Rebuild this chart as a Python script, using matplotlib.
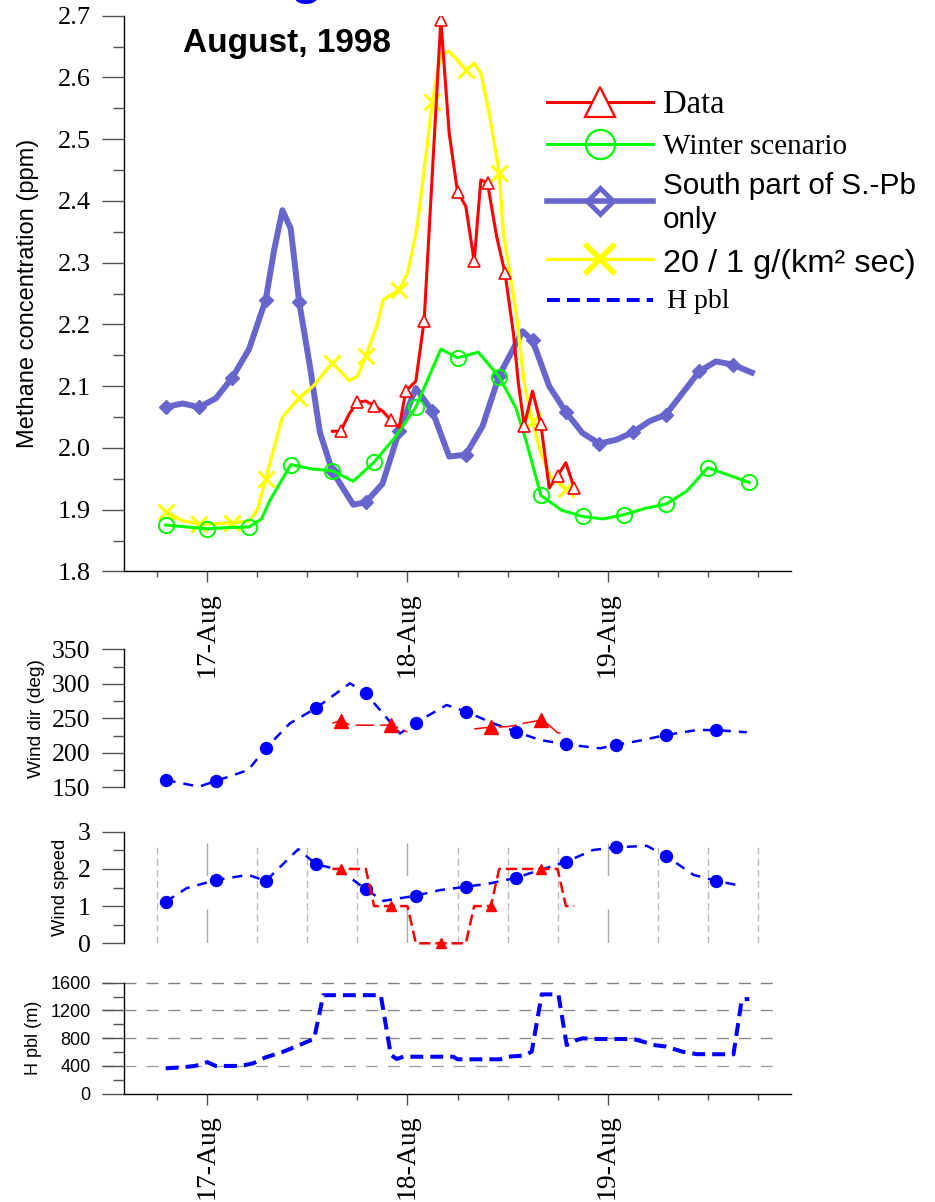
import matplotlib
matplotlib.use("Agg")
import matplotlib.pyplot as plt
from matplotlib.lines import Line2D
from matplotlib.ticker import MultipleLocator, FixedLocator, NullLocator

W, H, DPI = 935, 1202, 100
SERIF = "Liberation Serif"
SANS = "Liberation Sans"

# ---- time axis: hours since 17 Aug 1998 00:00 ----
day_ticks = [0, 24, 48]
day_labels = ["17-Aug", "18-Aug", "19-Aug"]
six_hour_ticks = [-6, 6, 12, 18, 30, 36, 42, 54, 60, 66]

# ---- methane concentration (ppm) ----
data_h = [15, 16, 17, 18, 19, 20, 21, 22, 23, 23.8, 25, 26, 28, 29, 30, 31, 32,
          32.8, 33.6, 34.7, 35.7, 36.7, 37.3, 38, 39, 40, 41, 42, 43, 44]
data_ch4 = [2.027, 2.027, 2.055, 2.074, 2.076, 2.068, 2.060, 2.045, 2.033, 2.092,
            2.108, 2.206, 2.693, 2.510, 2.415, 2.391, 2.302, 2.434, 2.429, 2.342,
            2.283, 2.186, 2.105, 2.036, 2.092, 2.038, 1.935, 1.955, 1.976, 1.935]
data_mark_h = [16, 18, 20, 22, 23.8, 26, 28, 30, 32, 33.6, 35.7, 38, 40, 42, 44]

winter_h = [-5, -2.5, 0, 2.5, 5, 6.5, 7.5, 10, 12.5, 15, 17.5, 20, 22.5, 25, 28,
            30, 32.5, 35, 37, 38.3, 40, 42.5, 45, 47.5, 50, 52.5, 55, 57.5, 60,
            62.5, 65]
winter_ch4 = [1.875, 1.872, 1.869, 1.871, 1.872, 1.885, 1.915, 1.973, 1.966, 1.963,
              1.946, 1.977, 2.017, 2.066, 2.160, 2.146, 2.155, 2.115, 2.065, 2.008,
              1.923, 1.899, 1.889, 1.885, 1.892, 1.902, 1.909, 1.930, 1.968, 1.956,
              1.944]
winter_mark_h = [-5, 0, 5, 10, 15, 20, 25, 30, 35, 40, 45, 50, 55, 60, 65]

south_h = [-5, -3, -1, 1, 3, 5, 7, 8, 9, 10, 11, 12.3, 13.5, 15, 17.5, 19, 21, 23,
           25, 27, 29, 31, 33, 35, 37.8, 39, 41, 43, 45, 47, 49, 51, 53, 55, 57,
           59, 61, 63, 65.3]
south_ch4 = [2.066, 2.072, 2.066, 2.080, 2.114, 2.160, 2.240, 2.320, 2.385, 2.355,
             2.237, 2.132, 2.025, 1.962, 1.908, 1.912, 1.942, 2.027, 2.097, 2.059,
             1.986, 1.989, 2.035, 2.117, 2.189, 2.174, 2.100, 2.058, 2.024, 2.007,
             2.013, 2.025, 2.043, 2.054, 2.089, 2.124, 2.140, 2.135, 2.122]
south_mark_h = [-5, -1, 3, 7, 11, 15, 19, 23, 27, 31, 35, 39, 43, 47, 51, 55, 59, 63]

emis_h = [-5, -3, -1, 1, 3, 5, 6, 7, 9, 11, 12.7, 15, 17, 18, 19, 20.3, 21.1, 23,
          24, 25.1, 26.3, 27, 28, 29, 30, 31, 32, 32.8, 33.8, 35, 35.5, 37.1, 38,
          39, 40, 41.1, 43, 44]
emis_ch4 = [1.897, 1.882, 1.877, 1.877, 1.879, 1.881, 1.900, 1.950, 2.050, 2.081,
            2.100, 2.138, 2.109, 2.116, 2.149, 2.197, 2.240, 2.256, 2.283, 2.353,
            2.483, 2.561, 2.639, 2.642, 2.628, 2.612, 2.623, 2.607, 2.542, 2.446,
            2.348, 2.213, 2.105, 2.043, 1.992, 1.954, 1.933, 1.930]
emis_mark_h = [-5, -1, 3, 7, 11, 15, 19, 23, 27, 31, 35, 39, 43]

# ---- wind direction (deg) ----
wdir_h = [-5, -1, 1, 4.9, 7, 9.9, 13, 17.1, 19, 23.1, 25, 28.7, 31, 34.3, 37, 39.9,
          43, 47.1, 49, 52, 55, 58.7, 61, 64.7]
wdir = [160.6, 150.9, 159.1, 175, 206.5, 242.7, 264.5, 300.7, 286.2, 228, 243.6,
        269.3, 259.6, 242.7, 230.6, 218.6, 212.3, 206.5, 211.3, 218, 225.8, 233,
        233, 229.7]
wdir_mark_h = [-5, 1, 7, 13, 19, 25, 31, 37, 43, 49, 55, 61]

obs_h = list(range(15, 45))
obs_wdir = [243, 246.5, 241, 240, 240, 240, 240, 240.3, 236, 230,
            None, None, None, None, None, None, None,
            234.5, 236, 237, 237.5, 238, 240, 243, 245, 247.5, 240, 229, 229, None]
obs_wspd = [2, 2, 2, 2, 2, 1, 1, 1, 1, 1, 0, 0, 0, 0, 0, 0, 0,
            1, 1, 1, 2, 2, 2, 2, 2, 2, 2, 2, 1, 1]
obs_mark_h = [16, 22, 28, 34, 40]

# ---- wind speed ----
wspd_h = [-5, -2.5, 1, 4.9, 7, 10.9, 13, 15.9, 19, 21.1, 25, 27.9, 31, 33.9, 37,
          39.9, 43, 46.3, 49, 52.7, 55, 58.3, 61, 63.9]
wspd = [1.118, 1.48, 1.70, 1.84, 1.675, 2.53, 2.13, 1.97, 1.45, 1.14, 1.28, 1.43,
        1.52, 1.61, 1.76, 1.97, 2.19, 2.51, 2.58, 2.62, 2.35, 1.84, 1.68, 1.55]
wspd_mark_h = [-5, 1, 7, 13, 19, 25, 31, 37, 43, 49, 55, 61]

# ---- boundary layer height (m) ----
hpbl_h = [-5, -3, -1.5, 0, 1, 4, 5.5, 7, 9, 11, 12.8, 13.9, 20.8, 22, 22.7, 23.5,
          29.5, 30, 35.1, 36, 38, 38.9, 40.1, 42.1, 43.1, 44.3, 45, 46.7, 51.1,
          52.3, 53.5, 55, 57, 58.7, 63.1, 64.1, 65]
hpbl = [366, 380, 400, 455, 400, 400, 438, 525, 600, 700, 790, 1420, 1420, 560,
        500, 533, 533, 496, 496, 533, 550, 605, 1432, 1432, 700, 774, 798, 788,
        788, 749, 702, 680, 605, 570, 568, 1360, 1365]

RED, GREEN, SLATE, YELLOW, BLUE = "#ff0000", "#00ff00", "#6666cc", "#ffff00", "#0000ff"
TICK = "#505050"


def fx(px):
    return px / W


def fy(py):
    return 1 - py / H


def marks(hours, wanted):
    return [i for i, t in enumerate(hours) if t in wanted]


fig = plt.figure(figsize=(W / DPI, H / DPI), dpi=DPI)
plot_w = (791 - 124) / W
ax1 = fig.add_axes([fx(124), fy(571.4), plot_w, (571.4 - 15.7) / H])
ax2 = fig.add_axes([fx(124), fy(787.3), plot_w, (787.3 - 649.3) / H])
ax3 = fig.add_axes([fx(124), fy(943.3), plot_w, (943.3 - 831.7) / H])
ax4 = fig.add_axes([fx(124), fy(1093.7), plot_w, (1093.7 - 982.7) / H])

for ax in (ax1, ax2, ax3, ax4):
    ax.set_xlim(-10, 70)
    ax.spines["top"].set_visible(False)
    ax.spines["right"].set_visible(False)
    ax.spines["left"].set_linewidth(1.0)
    ax.spines["bottom"].set_linewidth(1.0)
    ax.patch.set_alpha(0)


def style_y(ax, major, minor, family, size):
    ax.yaxis.set_major_locator(MultipleLocator(major))
    ax.yaxis.set_minor_locator(MultipleLocator(minor))
    ax.tick_params(axis="y", which="major", direction="out", length=15.5, width=1,
                   color=TICK, pad=8.5, labelsize=size, labelfontfamily=family)
    ax.tick_params(axis="y", which="minor", direction="out", length=8, width=1,
                   color=TICK)


def style_dates(ax):
    ax.xaxis.set_major_locator(FixedLocator(day_ticks))
    ax.xaxis.set_minor_locator(FixedLocator(six_hour_ticks))
    ax.set_xticklabels(day_labels, rotation=90, fontfamily=SERIF, fontsize=20)
    ax.tick_params(axis="x", which="major", direction="out", length=8, width=1,
                   color=TICK, pad=7)
    ax.tick_params(axis="x", which="minor", direction="out", length=4, width=1,
                   color=TICK)


# ---------------- methane panel ----------------
ax1.set_ylim(1.8, 2.7)
style_y(ax1, 0.1, 0.05, SERIF, 19)
ax1.yaxis.set_major_formatter(lambda v, p: f"{v:.1f}")
style_dates(ax1)
ax1.set_ylabel("Methane concentration (ppm)", fontfamily=SANS, fontsize=17)
ax1.yaxis.set_label_coords((27.7 - 124) / 667, 0.5)
ax1.yaxis.label.set_va("center")

ax1.plot(emis_h, emis_ch4, color=YELLOW, lw=2.4, marker="x", ms=12, mew=2.2,
         markevery=marks(emis_h, emis_mark_h), zorder=3)
ax1.plot(south_h, south_ch4, color=SLATE, lw=4.3, marker="D", ms=7,
         markevery=marks(south_h, south_mark_h), zorder=2, solid_joinstyle="round")
ax1.plot(winter_h, winter_ch4, color=GREEN, lw=2.2, marker="o", ms=11, mfc="none",
         mew=1.4, markevery=marks(winter_h, winter_mark_h), zorder=4)
ax1.plot(data_h, data_ch4, color=RED, lw=2.2, marker="^", ms=8, mfc="white",
         mew=1.2, markevery=marks(data_h, data_mark_h), zorder=5)

fig.text(fx(183), fy(52), "August, 1998", fontfamily=SANS, fontweight="bold",
         fontsize=24, va="baseline", ha="left")
fig.text(fx(289), fy(-7.6), "g", fontfamily=SANS, fontsize=43, color=BLUE,
         va="baseline", ha="left")

# legend block
def legend_line(y, **kw):
    fig.add_artist(Line2D([fx(547), fx(653)], [fy(y), fy(y)],
                          transform=fig.transFigure, **kw))


legend_line(101.7, color=RED, lw=2.2)
fig.add_artist(Line2D([fx(600)], [fy(101.7)], transform=fig.transFigure, ls="none",
                      marker="^", ms=21, mfc="white", mec=RED, mew=1.6))
fig.text(fx(663), fy(113.3), "Data", fontfamily=SERIF, fontsize=23.5, va="baseline")

legend_line(144, color=GREEN, lw=2.2)
fig.add_artist(Line2D([fx(600)], [fy(144)], transform=fig.transFigure, ls="none",
                      marker="o", ms=21, mfc="none", mec=GREEN, mew=1.6))
fig.text(fx(663), fy(154.3), "Winter scenario", fontfamily=SERIF, fontsize=21,
         va="baseline")

legend_line(200.7, color=SLATE, lw=4.0)
fig.add_artist(Line2D([fx(600)], [fy(200.7)], transform=fig.transFigure, ls="none",
                      marker="D", ms=13, mfc="none", mec=SLATE, mew=3.5))
fig.text(fx(663), fy(194.3), "South part of S.-Pb", fontfamily=SANS, fontsize=21.4,
         va="baseline")
fig.text(fx(663), fy(227.7), "only", fontfamily=SANS, fontsize=21.4, va="baseline")

legend_line(259, color=YELLOW, lw=2.4)
fig.add_artist(Line2D([fx(600)], [fy(259)], transform=fig.transFigure, ls="none",
                      marker="x", ms=22, mec=YELLOW, mew=4.2))
fig.text(fx(663), fy(271.7), "20 / 1 g/(km² sec)", fontfamily=SANS, fontsize=23.4,
         va="baseline")

legend_line(300, color=BLUE, lw=2.9, dashes=(3.2, 1.75))
fig.text(fx(667), fy(308.3), "H pbl", fontfamily=SERIF, fontsize=20, va="baseline")

# ---------------- wind direction panel ----------------
ax2.set_ylim(150, 350)
style_y(ax2, 50, 25, SERIF, 18.5)
ax2.spines["bottom"].set_visible(False)
ax2.xaxis.set_major_locator(NullLocator())
ax2.xaxis.set_minor_locator(NullLocator())
ax2.set_ylabel("Wind dir (deg)", fontfamily=SANS, fontsize=13.7)
ax2.yaxis.set_label_coords((36 - 124) / 667, 0.5)
ax2.yaxis.label.set_va("center")
ax2.plot(wdir_h, wdir, color=BLUE, lw=1.8, dashes=(4, 3.2), marker="o", ms=8.6,
         markevery=marks(wdir_h, wdir_mark_h), clip_on=False, zorder=3)
ax2.plot(obs_h, [float("nan") if v is None else v for v in obs_wdir], color=RED,
         lw=1.1, dashes=(12, 4), marker="^", ms=10,
         markevery=marks(obs_h, obs_mark_h), clip_on=False, zorder=4)

# ---------------- wind speed panel ----------------
ax3.set_ylim(0, 3)
style_y(ax3, 1, 0.5, SERIF, 18.5)
ax3.spines["bottom"].set_visible(False)
ax3.xaxis.set_major_locator(NullLocator())
ax3.xaxis.set_minor_locator(NullLocator())
ax3.set_ylabel("Wind speed", fontfamily=SANS, fontsize=13.2)
ax3.yaxis.set_label_coords((60 - 124) / 667, 0.5)
ax3.yaxis.label.set_va("center")
for t in six_hour_ticks:
    ax3.plot([t, t], [0, 2.7], color="#bbbbbb", lw=1.0, dashes=(5, 3), zorder=1)
for t in day_ticks:
    ax3.plot([t, t], [0, 2.7], color="#aaaaaa", lw=1.0, dashes=(24.5, 24), zorder=1)
ax3.plot(wspd_h, wspd, color=BLUE, lw=1.8, dashes=(4, 3.2), marker="o", ms=8.6,
         markevery=marks(wspd_h, wspd_mark_h), clip_on=False, zorder=3)
ax3.plot(obs_h, obs_wspd, color=RED, lw=1.8, dashes=(4.5, 2), marker="^", ms=7.5,
         markevery=marks(obs_h, obs_mark_h), clip_on=False, zorder=4)

# ---------------- boundary layer height panel ----------------
ax4.set_ylim(0, 1600)
style_y(ax4, 400, 200, SANS, 13)
style_dates(ax4)
ax4.set_ylabel("H pbl (m)", fontfamily=SANS, fontsize=13)
ax4.yaxis.set_label_coords((33 - 124) / 667, 0.5)
ax4.yaxis.label.set_va("center")
grid_left = (102 - 207.3) / (200 / 24)
grid_right = (781 - 207.3) / (200 / 24)
for v, c in zip([400, 800, 1200, 1600], ["#a0a0a0", "#8c8c8c", "#8c8c8c", "#808080"]):
    ax4.plot([grid_left, grid_right], [v, v], color=c, lw=1.0, dashes=(8.6, 7.2),
             clip_on=False, zorder=1)
ax4.plot(hpbl_h, hpbl, color=BLUE, lw=2.9, dashes=(3.2, 1.75), zorder=3,
         clip_on=False)

fig.savefig("out.png", dpi=DPI)
